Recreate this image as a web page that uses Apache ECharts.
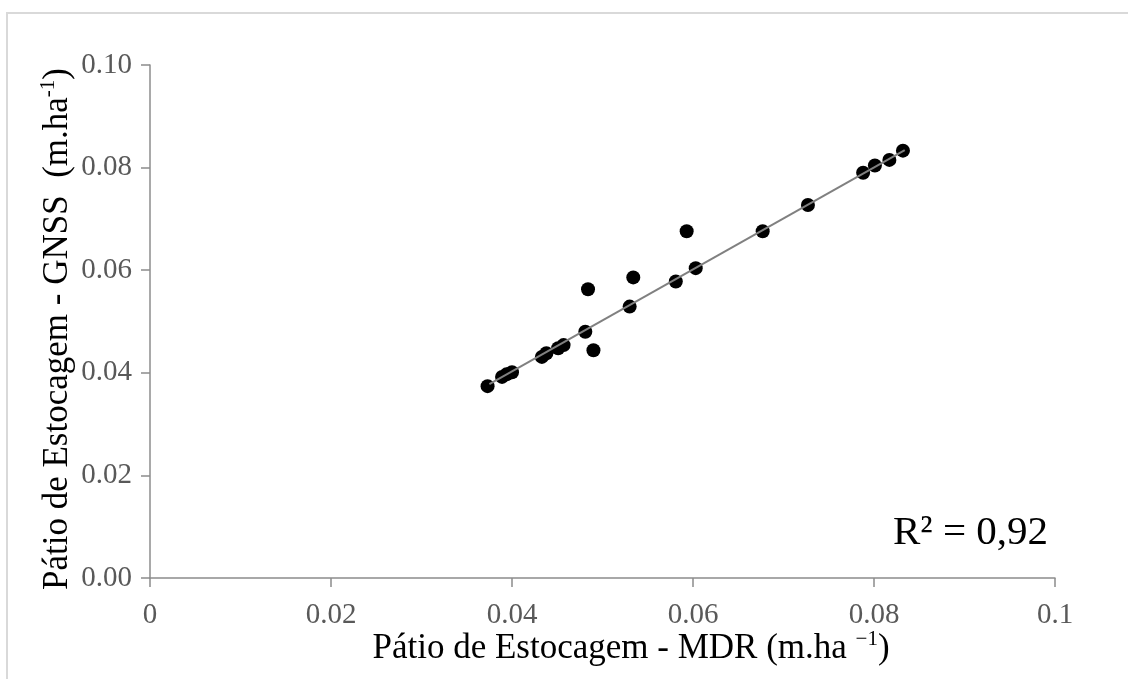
<!DOCTYPE html>
<html>
<head>
<meta charset="utf-8">
<script src="https://cdn.jsdelivr.net/npm/echarts@6/dist/echarts.min.js"></script>
<style>
  html, body { margin: 0; padding: 0; background: #ffffff; }
  #chart { width: 1128px; height: 679px; }
</style>
</head>
<body>
<div id="chart"></div>
<script>
// Stockyard area per hectare measured by two methods (m.ha-1)
const mdr  = [0.0373, 0.0389, 0.0394, 0.0400, 0.0433, 0.0438, 0.0451, 0.0457, 0.0481, 0.0490, 0.0484,
              0.0530, 0.0534, 0.0581, 0.0593, 0.0603, 0.0677, 0.0727, 0.0788, 0.0801, 0.0817, 0.0832];
const gnss = [0.0374, 0.0392, 0.0397, 0.0401, 0.0431, 0.0438, 0.0448, 0.0454, 0.0480, 0.0444, 0.0563,
              0.0529, 0.0586, 0.0578, 0.0676, 0.0604, 0.0676, 0.0727, 0.0790, 0.0804, 0.0815, 0.0833];

// Fitted line end points
const trendMdr  = [0.0375, 0.0834];
const trendGnss = [0.0378, 0.0834];

const xTickLabels = ['0', '0.02', '0.04', '0.06', '0.08', '0.1'];
const yTickLabels = ['0.00', '0.02', '0.04', '0.06', '0.08', '0.10'];
const r2Text = 'R² = 0,92';

const serif = '"Liberation Serif", "Times New Roman", serif';
const axisGray = '#8c8c8c';
const labelGray = '#595959';

const chart = echarts.init(document.getElementById('chart'), null, { renderer: 'canvas' });

const titleRich = {
  m: { fontFamily: serif, fontSize: 35, fill: '#000', lineHeight: 40, verticalAlign: 'bottom' },
  s: { fontFamily: serif, fontSize: 21, fill: '#000', lineHeight: 40, verticalAlign: 'top', padding: [3, 0, 0, 0] }
};

chart.setOption({
  backgroundColor: '#ffffff',
  animation: false,
  grid: { left: 150, right: 73, top: 65, bottom: 101, containLabel: false },
  xAxis: {
    type: 'value', min: 0, max: 0.1, interval: 0.02,
    axisLine: { show: true, lineStyle: { color: axisGray, width: 1.5 } },
    axisTick: { show: true, length: 9, lineStyle: { color: axisGray, width: 1.5 } },
    splitLine: { show: false },
    axisLabel: {
      margin: 23, color: labelGray, fontFamily: serif, fontSize: 29,
      formatter: v => xTickLabels[Math.round(v / 0.02)]
    }
  },
  yAxis: {
    type: 'value', min: 0, max: 0.1, interval: 0.02,
    axisLine: { show: true, lineStyle: { color: axisGray, width: 1.5 } },
    axisTick: { show: true, length: 9, lineStyle: { color: axisGray, width: 1.5 } },
    splitLine: { show: false },
    axisLabel: {
      margin: 18, color: labelGray, fontFamily: serif, fontSize: 29,
      formatter: v => yTickLabels[Math.round(v / 0.02)]
    }
  },
  series: [
    {
      type: 'line',
      data: trendMdr.map((x, i) => [x, trendGnss[i]]),
      symbol: 'none',
      lineStyle: { color: '#808080', width: 2 },
      z: 3
    },
    {
      type: 'scatter',
      data: mdr.map((x, i) => [x, gnss[i]]),
      symbol: 'circle',
      symbolSize: 14,
      itemStyle: { color: '#000000', opacity: 1 },
      z: 2
    }
  ],
  graphic: [
    {
      type: 'rect', silent: true, z: -10,
      shape: { x: 7, y: 13, width: 1140, height: 700 },
      style: { fill: 'none', stroke: '#d9d9d9', lineWidth: 2 }
    },
    {
      type: 'text', silent: true,
      x: 631, y: 646,
      style: {
        text: '{m|Pátio de Estocagem - MDR (m.ha }{s|−1}{m|)}',
        align: 'center', verticalAlign: 'middle',
        rich: titleRich
      }
    },
    {
      type: 'text', silent: true,
      x: 55, y: 329, rotation: Math.PI / 2,
      style: {
        text: '{m|Pátio de Estocagem - GNSS  (m.ha}{s|-1}{m|)}',
        align: 'center', verticalAlign: 'middle',
        rich: titleRich
      }
    },
    {
      type: 'text', silent: true,
      x: 893, y: 533,
      style: {
        text: r2Text, fontFamily: serif, fontSize: 41, fill: '#000',
        align: 'left', verticalAlign: 'middle'
      }
    }
  ]
});
</script>
</body>
</html>
